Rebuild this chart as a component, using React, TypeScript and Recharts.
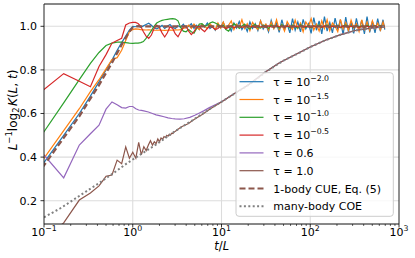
import React from "react";
import { LineChart, Line, XAxis, YAxis, CartesianGrid, ReferenceLine } from "recharts";

const W = 415;
const H = 258;
const FONT = "DejaVu Sans, sans-serif";
const PLOT_BOTTOM = 224;
const Y_MIN = 0.0931;
const Y_MAX = 1.1023;

const C = {
  blue: "#1f77b4",
  orange: "#ff7f0e",
  green: "#2ca02c",
  red: "#d62728",
  purple: "#9467bd",
  brown: "#8c564b",
  gray: "#808080",
};

// ---- ticks ----
const xMajorTicks = [0.1, 1, 10, 100, 1000];
const xMajorExp = ["\u22121", "0", "1", "2", "3"];
const xMinorTicks = [
  0.2, 0.3, 0.4, 0.5, 0.6, 0.7, 0.8, 0.9,
  2, 3, 4, 5, 6, 7, 8, 9,
  20, 30, 40, 50, 60, 70, 80, 90,
  200, 300, 400, 500, 600, 700, 800, 900,
];
const yTicks = [0.2, 0.4, 0.6, 0.8, 1.0];
const xGridLines = [1, 10, 100];

// ---- time grids ----
const tEarly = [0.0833, 0.1667, 0.25, 0.3333, 0.4167, 0.5, 0.5833, 0.6667, 0.75, 0.8333, 0.9167];
const tFine = [
  1, 1.0833, 1.1667, 1.25, 1.3333, 1.4167, 1.5, 1.5833, 1.6667, 1.75,
  1.8333, 1.9167, 2, 2.0833, 2.1667, 2.25, 2.3333, 2.4167, 2.5, 2.5833,
  2.6667, 2.75, 2.8333, 2.9167, 3,
];
const tGrid = [
  1, 1.072, 1.148, 1.23, 1.318, 1.413, 1.514, 1.622, 1.738, 1.862,
  1.995, 2.138, 2.291, 2.455, 2.63, 2.818, 3.02, 3.236, 3.467, 3.715,
  3.981, 4.266, 4.571, 4.898, 5.248, 5.623, 6.026, 6.457, 6.918, 7.413,
  7.943, 8.511, 9.12, 9.772, 10.47, 11.22, 12.02, 12.88, 13.8, 14.79,
  15.85, 16.98, 18.2, 19.5, 20.89, 22.39, 23.99, 25.7, 27.54, 29.51,
  31.62, 33.88, 36.31, 38.9, 41.69, 44.67, 47.86, 51.29, 54.95, 58.88,
  63.1, 67.61, 72.44, 77.62, 83.18, 89.13, 95.5, 102.3, 109.6, 117.5,
  125.9, 134.9, 144.5, 154.9, 166, 177.8, 190.5, 204.2, 218.8, 234.4,
  251.2, 269.2, 288.4, 309, 331.1, 354.8, 380.2, 407.4, 436.5, 467.7,
  501.2, 537, 575.4, 616.6, 660.7, 691.8,
];

// ---- tau = 10^-2.0 ----
const blueEarly = [0.33, 0.5, 0.6, 0.68, 0.745, 0.8, 0.845, 0.89, 0.925, 0.955, 0.983];
const blueLate = [
  1.0, 0.998, 1.003, 0.995, 1.002, 1.008, 1.014, 1.005, 0.993, 0.988,
  0.995, 1.004, 0.99, 1.0, 1.008, 0.995, 0.99, 1.003, 0.996, 1.01,
  0.992, 1.0, 1.012, 0.99, 1.005, 0.985, 1.008, 0.996, 1.015, 0.99,
  1.0, 0.982, 1.01, 0.995, 1.018, 0.988, 1.004, 0.978, 1.015, 0.992,
  1.022, 0.985, 1.005, 0.976, 1.02, 0.99, 1.012, 0.98, 1.025, 0.987,
  1.008, 0.974, 1.028, 0.99, 1.015, 0.972, 1.03, 0.985, 1.01, 0.97,
  1.035, 0.982, 1.02, 0.975, 1.032, 0.988, 1.012, 0.968, 1.04, 0.982,
  1.025, 0.965, 1.045, 0.978, 1.018, 0.97, 1.038, 0.985, 1.03, 0.962,
  1.042, 0.975, 1.02, 0.968, 1.036, 0.98, 1.028, 0.965, 1.044, 0.972,
  1.022, 0.97, 1.035, 0.978, 1.03, 0.985,
];

// ---- tau = 10^-1.5 ----
const orangeEarly = [0.35, 0.521, 0.622, 0.7, 0.755, 0.805, 0.848, 0.856, 0.89, 0.935, 0.975];
const orangeLate = [
  0.985, 0.988, 0.987, 0.985, 0.984, 0.983, 0.984, 0.983, 0.982, 0.982,
  0.983, 0.982, 0.981, 0.982, 0.983, 0.982, 0.984, 0.983, 0.985, 0.99,
  0.995, 1.005, 0.99, 1.01, 0.995, 0.985, 1.008, 1.0, 0.99, 1.012,
  0.998, 0.985, 1.015, 0.992, 1.02, 0.99, 1.005, 1.025, 0.985, 1.01,
  0.995, 1.03, 0.99, 1.012, 0.98, 1.018, 1.0, 0.985, 1.025, 0.995,
  1.01, 0.982, 1.02, 0.99, 1.03, 0.985, 1.008, 0.978, 1.022, 1.0,
  0.985, 1.028, 0.99, 1.015, 0.975, 1.02, 1.0, 1.035, 0.982, 1.01,
  0.978, 1.025, 0.99, 1.03, 0.98, 1.015, 1.0, 0.975, 1.032, 0.988,
  1.018, 0.98, 1.028, 0.992, 1.012, 0.976, 1.03, 0.985, 1.02, 0.98,
  1.025, 0.99, 1.015, 0.982, 1.02, 0.992,
];

// ---- tau = 10^-1.0 ----
const greenEarly = [0.469, 0.649, 0.755, 0.83, 0.88, 0.912, 0.923, 0.927, 0.927, 0.925, 0.923];
const greenLate = [
  0.922, 0.923, 0.923, 0.925, 0.93, 0.945, 0.962, 0.98, 1.0, 1.015,
  1.022, 1.027, 1.03, 1.032, 1.034, 1.035, 1.033, 1.025, 0.995, 0.978,
  0.975, 0.985, 0.975, 0.968, 0.99, 1.01, 1.012, 1.0, 1.005, 1.015,
  1.02, 1.015, 1.008, 0.998, 1.005, 0.985, 0.978, 0.995, 1.012, 1.004,
  0.99, 1.0, 1.01, 0.996, 0.988, 1.003, 1.008, 0.995, 0.992, 1.006,
  1.0, 0.99, 1.007, 0.996, 1.004, 0.992, 1.008, 0.997, 1.002, 0.993,
  1.006, 0.998, 0.992, 1.007, 1.0, 0.995, 1.005, 0.993, 1.003, 0.998,
  1.007, 0.994, 1.0, 1.006, 0.995, 1.002, 0.997, 1.005, 0.993, 1.001,
  1.006, 0.996, 1.003, 0.994, 1.004, 0.998, 1.002, 0.995, 1.005, 0.999,
  0.996, 1.003, 0.998, 1.004, 0.997, 1.0,
];

// ---- tau = 10^-0.5 ----
const redEarly = [0.684, 0.783, 0.748, 0.723, 0.816, 0.87, 0.923, 0.935, 0.945, 1.006, 1.015];
const redLate = [
  1.018, 1.018, 1.013, 1.0, 0.975, 0.955, 0.945, 0.96, 0.99, 1.005,
  0.995, 0.97, 0.951, 0.97, 0.998, 0.99, 0.965, 0.952, 0.975, 0.997,
  1.0, 0.978, 0.962, 0.975, 0.997, 1.0, 0.985, 0.975, 0.99, 1.002,
  0.995, 0.985, 0.99, 1.002, 0.997, 0.99, 0.995, 1.003, 0.994, 0.998,
  1.002, 0.995, 0.999, 1.003, 0.996, 1.0, 0.994, 1.002, 0.997, 1.001,
  0.995, 1.002, 0.998, 0.996, 1.003, 0.997, 1.0, 0.995, 1.002, 0.998,
  0.996, 1.001, 0.997, 1.003, 0.995, 1.0, 0.998, 0.996, 1.002, 0.997,
  1.0, 0.995, 1.002, 0.998, 0.996, 1.001, 0.997, 0.999, 0.995, 1.002,
  0.998, 0.996, 1.001, 0.997, 1.0, 0.995, 0.999, 0.997, 1.001, 0.996,
  0.999, 0.997, 1.0, 0.996, 0.998, 0.997,
];

// ---- tau = 0.6 ----
const purpleEarly = [0.447, 0.305, 0.455, 0.507, 0.546, 0.62, 0.653, 0.64, 0.627, 0.625, 0.632];
const purpleLateT = [
  1, 1.0833, 1.1667, 1.25, 1.3333, 1.5, 1.6667, 1.8333, 2, 2.25, 2.5, 2.75, 3,
  3.4, 3.8, 4.4, 5, 5.5, 6.3, 7.3, 8.5, 10, 14, 20, 30, 45, 70, 100, 150, 220, 330, 500, 690,
];
const purpleLateV = [
  0.632, 0.622, 0.616, 0.614, 0.612, 0.607, 0.6, 0.594, 0.59, 0.585, 0.58, 0.577, 0.575,
  0.574, 0.576, 0.582, 0.592, 0.6, 0.612, 0.627, 0.64, 0.654, 0.692, 0.731, 0.786, 0.833,
  0.873, 0.905, 0.937, 0.962, 0.982, 0.993, 0.997,
];

// ---- tau = 1.0 ----
const tau1Early = [0.0, 0.098, 0.203, 0.235, 0.268, 0.312, 0.318, 0.386, 0.37, 0.447, 0.395];
const tau1Fine = [
  0.422, 0.395, 0.468, 0.41, 0.448, 0.43, 0.455, 0.475, 0.455, 0.47,
  0.462, 0.483, 0.47, 0.488, 0.482, 0.494, 0.49, 0.5, 0.496, 0.505,
  0.502, 0.51, 0.508, 0.515, 0.517,
];
const tau1LateT = [3.5, 4.2, 5, 6, 7.5, 10, 14, 20, 30, 45, 70, 100, 150, 220, 330, 500, 690];
const tau1LateV = [
  0.538, 0.553, 0.575, 0.594, 0.622, 0.653, 0.692, 0.731, 0.786, 0.833,
  0.873, 0.905, 0.937, 0.962, 0.982, 0.993, 0.997,
];

// ---- 1-body CUE, Eq. (5) ----
const cueT = [0.0833, 0.1667, 0.25, 0.3333, 0.4167, 0.5, 0.5833, 0.6667, 0.75, 0.8333, 0.9167, 1, 1.0833, 690];
const cueV = [0.317, 0.488, 0.587, 0.668, 0.73, 0.786, 0.832, 0.877, 0.915, 0.948, 0.975, 0.995, 1.0, 1.0];

// ---- many-body COE ----
const coeT = [0.1, 0.15, 0.2, 0.3, 0.4, 0.6, 0.85, 1.2, 1.6, 2, 2.85, 3.7, 5.2, 7.4, 10.4, 14.8, 20, 32, 50, 76, 100, 146, 225, 350, 535, 690];
const coeV = [
  0.124, 0.163, 0.196, 0.243, 0.276, 0.325, 0.37, 0.41, 0.442, 0.468, 0.513, 0.542, 0.58,
  0.621, 0.658, 0.697, 0.73, 0.792, 0.843, 0.879, 0.905, 0.935, 0.963, 0.984, 0.994, 0.998,
];

// ---- legend text ----
const legendExps = ["\u22122.0", "\u22121.5", "\u22121.0", "\u22120.5"];
const legendPlain = ["\u03c4 = 0.6", "\u03c4 = 1.0", "1-body CUE, Eq. (5)", "many-body COE"];

const zip = (ts: number[], vs: number[]) => ts.map((t, i) => ({ t, v: vs[i] }));

const blue = [...zip(tEarly, blueEarly), ...zip(tGrid, blueLate)];
const orange = [...zip(tEarly, orangeEarly), ...zip(tGrid, orangeLate)];
const green = [...zip(tEarly, greenEarly), ...zip(tGrid, greenLate)];
const red = [...zip(tEarly, redEarly), ...zip(tGrid, redLate)];
const purple = [...zip(tEarly, purpleEarly), ...zip(purpleLateT, purpleLateV)];
const tau1 = [...zip(tEarly, tau1Early), ...zip(tFine, tau1Fine), ...zip(tau1LateT, tau1LateV)];
const cue = zip(cueT, cueV);
const coe = zip(coeT, coeV);

const seriesStyles = [
  { data: blue, color: C.blue, w: 1.2, dash: undefined as string | undefined },
  { data: orange, color: C.orange, w: 1.2, dash: undefined },
  { data: green, color: C.green, w: 1.2, dash: undefined },
  { data: red, color: C.red, w: 1.2, dash: undefined },
  { data: purple, color: C.purple, w: 1.2, dash: undefined },
  { data: tau1, color: C.brown, w: 1.2, dash: undefined },
  { data: cue, color: C.brown, w: 2.2, dash: "6 3" },
  { data: coe, color: C.gray, w: 2, dash: "2 2.4" },
];

const XTick = (props: any) => {
  const { x, payload } = props;
  const v = payload.value;
  const idx = xMajorTicks.indexOf(v);
  const y0 = PLOT_BOTTOM;
  if (idx < 0) {
    return <line x1={x} x2={x} y1={y0} y2={y0 + 2} stroke="#000" strokeWidth={0.6} />;
  }
  return (
    <g>
      <line x1={x} x2={x} y1={y0} y2={y0 + 3.5} stroke="#000" strokeWidth={0.8} />
      <text x={x} y={y0 + 11.5} textAnchor="middle" fontSize={11} fontFamily={FONT} fill="#000">
        10
        <tspan dy={-4.5} fontSize={7.8}>
          {xMajorExp[idx]}
        </tspan>
      </text>
    </g>
  );
};

const Overlay = () => {
  const rowY0 = 81.7;
  const rowStep = 17.8;
  const hx1 = 239.5;
  const hx2 = 263.5;
  const tx = 273.3;
  const handles = seriesStyles;
  return (
    <svg
      width={W}
      height={H}
      style={{ position: "absolute", left: 0, top: 0, pointerEvents: "none" }}
      fontFamily={FONT}
    >
      <rect x={236} y={72.7} width={157.3} height={143.6} rx={3} fill="#fff" fillOpacity={0.8} stroke="#cccccc" strokeWidth={1} />
      {handles.map((s, i) => {
        const cy = rowY0 + i * rowStep;
        return (
          <g key={i}>
            <line x1={hx1} x2={hx2} y1={cy} y2={cy} stroke={s.color} strokeWidth={s.w} strokeDasharray={s.dash} />
            {i < 4 ? (
              <text x={tx} y={cy + 4} fontSize={11} fill="#000">
                {"\u03c4 = 10"}
                <tspan dy={-5} fontSize={7.8}>
                  {legendExps[i]}
                </tspan>
              </text>
            ) : (
              <text x={tx} y={cy + 4} fontSize={11} fill="#000">
                {legendPlain[i - 4]}
              </text>
            )}
          </g>
        );
      })}
      <text x={221.7} y={250} textAnchor="middle" fontSize={11.5} fill="#000">
        <tspan fontStyle="italic">t</tspan>/<tspan fontStyle="italic">L</tspan>
      </text>
      <text transform="translate(16.5,110) rotate(-90)" textAnchor="middle" fontSize={12} fill="#000">
        <tspan fontStyle="italic">L</tspan>
        <tspan dy={-4.5} fontSize={8.5}>{"\u22121"}</tspan>
        <tspan dy={4.5}>log</tspan>
        <tspan dy={2.5} fontSize={8.5}>2</tspan>
        <tspan dy={-2.5} dx={1.5} fontStyle="italic">K</tspan>
        <tspan>(</tspan>
        <tspan fontStyle="italic">L</tspan>
        <tspan>, </tspan>
        <tspan fontStyle="italic">t</tspan>
        <tspan>)</tspan>
      </text>
    </svg>
  );
};

export default function App() {
  return (
    <div style={{ position: "absolute", left: 0, top: 0, width: W, height: H, background: "#fff" }}>
      <LineChart width={W} height={H} margin={{ top: 4, right: 16, bottom: 0, left: 0 }}>
        <CartesianGrid vertical={false} stroke="#dcdcdc" strokeWidth={1.1} />
        {xGridLines.map((g) => (
          <ReferenceLine key={g} x={g} stroke="#dcdcdc" strokeWidth={1.1} ifOverflow="visible" zIndex={-100} />
        ))}
        <XAxis
          dataKey="t"
          type="number"
          scale="log"
          domain={[0.1, 1000]}
          allowDataOverflow
          ticks={[...xMajorTicks, ...xMinorTicks]}
          interval={0}
          height={34}
          tickLine={false}
          tickSize={0}
          tickMargin={0}
          axisLine={{ stroke: "#222", strokeWidth: 1 }}
          tick={<XTick />}
        />
        <YAxis
          type="number"
          domain={[Y_MIN, Y_MAX]}
          allowDataOverflow
          ticks={yTicks}
          interval={0}
          width={44}
          tickSize={3.5}
          tickMargin={3.5}
          tickLine={{ stroke: "#000", strokeWidth: 0.8 }}
          axisLine={{ stroke: "#222", strokeWidth: 1 }}
          tickFormatter={(v: number) => v.toFixed(1)}
          tick={{ fill: "#000", fontSize: 11, fontFamily: FONT }}
        />
        {seriesStyles.map((s, i) => (
          <Line
            key={i}
            data={s.data}
            dataKey="v"
            type="linear"
            stroke={s.color}
            strokeWidth={s.w}
            strokeDasharray={s.dash}
            dot={false}
            activeDot={false}
            isAnimationActive={false}
          />
        ))}
        <ReferenceLine y={Y_MAX} stroke="#222" strokeWidth={1} ifOverflow="visible" />
        <ReferenceLine x={1000} stroke="#222" strokeWidth={1} ifOverflow="visible" />
      </LineChart>
      <Overlay />
    </div>
  );
}
